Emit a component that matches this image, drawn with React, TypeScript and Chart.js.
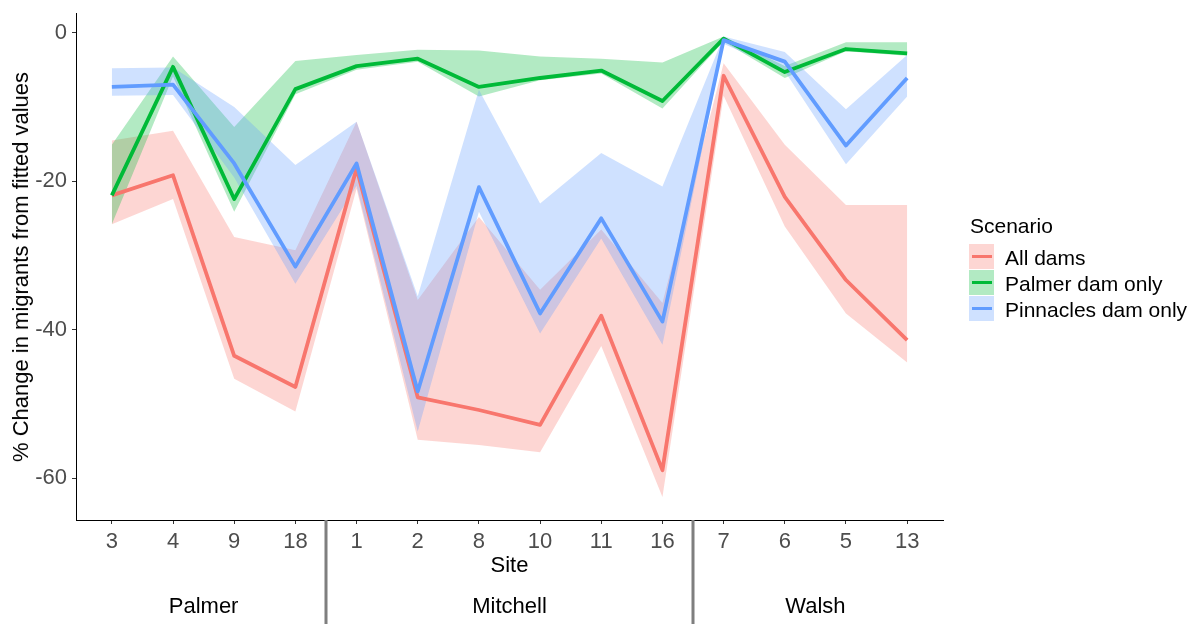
import React, { useEffect, useRef, useState } from 'react';
import { Chart, registerables } from 'chart.js';

Chart.register(...registerables);

// ---- data ----
const sites = ['3', '4', '9', '18', '1', '2', '8', '10', '11', '16', '7', '6', '5', '13'];
const rivers = ['Palmer', 'Mitchell', 'Walsh'];
const riverSiteCounts = [4, 6, 4];
const yTickValues = [0, -20, -40, -60];

const scenarios = ['All dams', 'Palmer dam only', 'Pinnacles dam only'];

const allDams = [-21.9, -19.2, -43.5, -47.7, -18.3, -49.1, -50.8, -52.8, -38.1, -58.9, -5.8, -22.1, -33.3, -41.4];
const allDamsLower = [-25.8, -22.4, -46.6, -51.0, -21.0, -54.8, -55.5, -56.5, -42.2, -62.5, -8.5, -26.1, -37.8, -44.4];
const allDamsUpper = [-14.5, -13.2, -27.5, -29.3, -12.0, -36.0, -24.8, -34.6, -26.5, -36.4, -4.1, -15.1, -23.2, -23.2];

const palmerOnly = [-21.9, -4.6, -22.4, -7.6, -4.5, -3.5, -7.3, -6.1, -5.1, -9.2, -0.8, -5.3, -2.2, -2.8];
const palmerOnlyLower = [-25.8, -5.9, -24.1, -8.3, -5.0, -3.9, -8.6, -6.4, -5.5, -10.2, -1.2, -6.1, -2.5, -3.1];
const palmerOnlyUpper = [-15.1, -3.2, -12.7, -3.8, -3.0, -2.3, -2.4, -3.2, -3.5, -4.0, -0.5, -4.5, -1.3, -1.3];

const pinnaclesOnly = [-7.3, -7.0, -17.6, -31.5, -17.6, -48.3, -20.8, -37.8, -25.0, -38.9, -1.0, -3.9, -15.2, -6.1];
const pinnaclesOnlyLower = [-8.5, -8.4, -19.5, -33.8, -20.6, -53.7, -24.1, -40.5, -27.7, -42.0, -1.5, -5.2, -17.7, -8.6];
const pinnaclesOnlyUpper = [-4.8, -4.7, -10.0, -17.8, -12.0, -35.5, -7.7, -23.0, -16.2, -20.7, -0.5, -2.6, -10.3, -3.0];

// ---- style ----
const lineColors = ['#F8766D', '#00BA38', '#619CFF'];
const ribbonColors = ['rgba(248,118,109,0.3)', 'rgba(0,186,56,0.3)', 'rgba(97,156,255,0.3)'];
const FONT = "'Liberation Sans', Arial, sans-serif";
const W = 1193;
const H = 624;

const toPoints = (arr: number[]) => arr.map((y, i) => ({ x: i, y }));

type Overlay = {
  left: number;
  right: number;
  top: number;
  bottom: number;
  groups: { label: string; x: number }[];
};

export default function App() {
  const canvasRef = useRef<HTMLCanvasElement | null>(null);
  const [ov, setOv] = useState<Overlay | null>(null);

  useEffect(() => {
    const canvas = canvasRef.current;
    if (!canvas) return;

    const lineDs = (label: string, data: number[], color: string) => ({
      label,
      data: toPoints(data),
      borderColor: color,
      backgroundColor: color,
      borderWidth: 3.8,
      pointRadius: 0,
      fill: false,
      tension: 0,
      borderJoinStyle: 'round' as const,
      borderCapStyle: 'butt' as const,
    });
    const bandDs = (label: string, data: number[], color: string, fill: any) => ({
      label,
      data: toPoints(data),
      borderColor: 'rgba(0,0,0,0)',
      backgroundColor: color,
      borderWidth: 0,
      pointRadius: 0,
      fill,
      tension: 0,
    });

    const separatorPlugin = {
      id: 'riverSeparators',
      afterDraw(chart: any) {
        const { ctx, chartArea, scales } = chart;
        const xs = scales.x;
        ctx.save();
        ctx.fillStyle = '#7F7F7F';
        let idx = 0;
        for (let g = 0; g < riverSiteCounts.length - 1; g++) {
          idx += riverSiteCounts[g];
          const px = xs.getPixelForValue(idx - 0.5);
          ctx.fillRect(Math.round(px) - 1.5, chartArea.bottom, 3, chart.height - chartArea.bottom);
        }
        ctx.restore();
      },
    };

    const zeroPad = (axis: any) => {
      axis.paddingTop = 0;
      axis.paddingBottom = 0;
      axis.paddingLeft = 0;
      axis.paddingRight = 0;
    };

    const chart = new Chart(canvas, {
      type: 'line',
      data: {
        datasets: [
          lineDs(scenarios[2], pinnaclesOnly, lineColors[2]),
          lineDs(scenarios[1], palmerOnly, lineColors[1]),
          lineDs(scenarios[0], allDams, lineColors[0]),
          bandDs('pinU', pinnaclesOnlyUpper, ribbonColors[2], '+1'),
          bandDs('pinL', pinnaclesOnlyLower, ribbonColors[2], false),
          bandDs('palU', palmerOnlyUpper, ribbonColors[1], '+1'),
          bandDs('palL', palmerOnlyLower, ribbonColors[1], false),
          bandDs('allU', allDamsUpper, ribbonColors[0], '+1'),
          bandDs('allL', allDamsLower, ribbonColors[0], false),
        ] as any,
      },
      options: {
        responsive: false,
        maintainAspectRatio: false,
        animation: false,
        devicePixelRatio: 1,
        events: [],
        layout: { padding: { left: 0, top: 13, right: W - 943, bottom: 0 }, autoPadding: false },
        plugins: {
          legend: { display: false },
          tooltip: { enabled: false },
          filler: { drawTime: 'beforeDatasetsDraw', propagate: false },
        } as any,
        scales: {
          x: {
            type: 'linear',
            min: -0.586,
            max: sites.length - 1 + 0.586,
            afterBuildTicks: (axis: any) => {
              axis.ticks = sites.map((_, i) => ({ value: i }));
            },
            afterFit: (axis: any) => {
              axis.height = H - 520;
              zeroPad(axis);
            },
            ticks: {
              autoSkip: false,
              maxRotation: 0,
              padding: 5,
              color: '#4D4D4D',
              font: { family: FONT, size: 22 },
              callback: (v: any) => sites[Math.round(Number(v))] ?? '',
            },
            grid: {
              display: true,
              drawOnChartArea: false,
              drawTicks: true,
              tickLength: 4,
              color: '#333333',
              lineWidth: 1,
            },
            border: { display: true, color: '#000000', width: 1 },
          },
          y: {
            type: 'linear',
            min: -65.61,
            max: 2.65,
            afterBuildTicks: (axis: any) => {
              axis.ticks = yTickValues.map((v) => ({ value: v }));
            },
            afterFit: (axis: any) => {
              axis.width = 76;
              zeroPad(axis);
            },
            ticks: {
              padding: 5,
              color: '#4D4D4D',
              font: { family: FONT, size: 22 },
              callback: (v: any) => String(v),
            },
            grid: {
              display: true,
              drawOnChartArea: false,
              drawTicks: true,
              tickLength: 4,
              color: '#333333',
              lineWidth: 1,
            },
            border: { display: true, color: '#000000', width: 1 },
          },
        } as any,
      },
      plugins: [separatorPlugin],
    });

    const xs: any = chart.scales.x;
    const ca = chart.chartArea;
    const groups: { label: string; x: number }[] = [];
    let start = 0;
    rivers.forEach((r, g) => {
      const end = start + riverSiteCounts[g] - 1;
      groups.push({ label: r, x: (xs.getPixelForValue(start) + xs.getPixelForValue(end)) / 2 });
      start = end + 1;
    });
    setOv({ left: ca.left, right: ca.right, top: ca.top, bottom: ca.bottom, groups });

    return () => {
      chart.destroy();
    };
  }, []);

  const textBase: React.CSSProperties = {
    position: 'absolute',
    fontFamily: FONT,
    color: '#000000',
    whiteSpace: 'nowrap',
    lineHeight: 1,
  };

  return (
    <div
      style={{
        position: 'fixed',
        left: 0,
        top: 0,
        width: W,
        height: H,
        background: '#FFFFFF',
        overflow: 'hidden',
      }}
    >
      <canvas ref={canvasRef} width={W} height={H} style={{ position: 'absolute', left: 0, top: 0, width: W, height: H, display: 'block' }} />
      {ov && (
        <>
          <div
            style={{
              ...textBase,
              fontSize: 22,
              left: 21,
              top: (ov.top + ov.bottom) / 2,
              transform: 'translate(-50%, -50%) rotate(-90deg)',
            }}
          >
            % Change in migrants from fitted values
          </div>
          <div
            style={{
              ...textBase,
              fontSize: 22,
              left: (ov.left + ov.right) / 2,
              top: 565,
              transform: 'translate(-50%, -50%)',
            }}
          >
            Site
          </div>
          {ov.groups.map((g) => (
            <div
              key={g.label}
              style={{ ...textBase, fontSize: 22, left: g.x, top: 606, transform: 'translate(-50%, -50%)' }}
            >
              {g.label}
            </div>
          ))}
        </>
      )}
      <div style={{ ...textBase, fontSize: 21, left: 970, top: 225, transform: 'translateY(-50%)' }}>Scenario</div>
      {scenarios.map((s, i) => (
        <React.Fragment key={s}>
          <div
            style={{
              position: 'absolute',
              left: 969,
              top: 244 + i * 26,
              width: 25,
              height: 25,
              background: ribbonColors[i],
            }}
          >
            <div
              style={{
                position: 'absolute',
                left: 2.5,
                top: 10.6,
                width: 20,
                height: 3.8,
                background: lineColors[i],
              }}
            />
          </div>
          <div style={{ ...textBase, fontSize: 21, left: 1005, top: 257 + i * 26, transform: 'translateY(-50%)' }}>{s}</div>
        </React.Fragment>
      ))}
    </div>
  );
}
